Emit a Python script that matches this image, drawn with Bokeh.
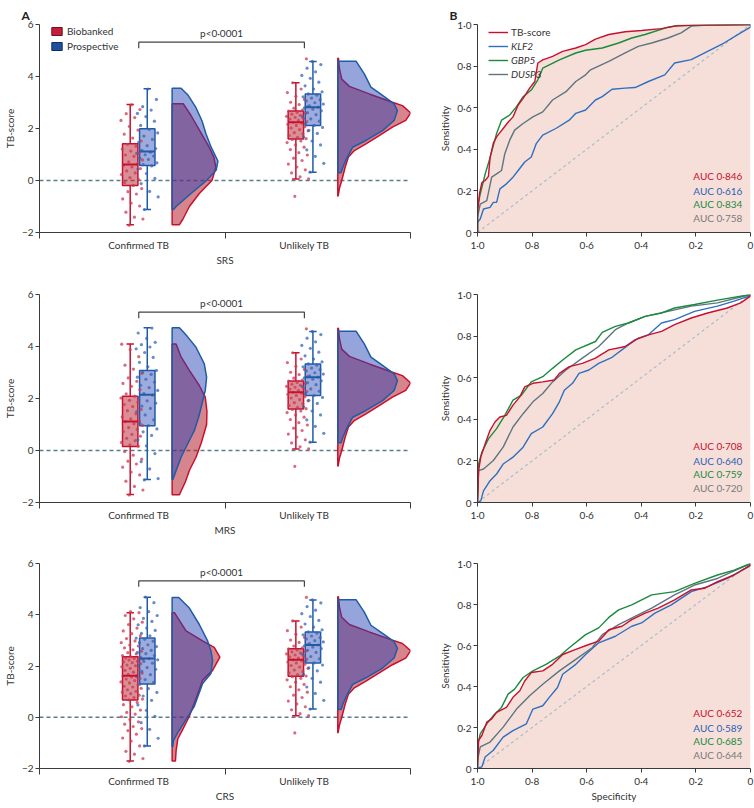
import numpy as np
from bokeh.plotting import figure
from bokeh.models import (Range1d, FixedTicker, CustomJSTickFormatter, Span, Label,
                          Legend, LegendItem)
from bokeh.layouts import row, column
from bokeh.embed import file_html
from bokeh.resources import INLINE

# ---------------- data ----------------
CATEGORIES = ["Confirmed TB", "Unlikely TB"]
GROUPS = ["Biobanked", "Prospective"]
STANDARDS = ["SRS", "MRS", "CRS"]
PANEL_LETTERS = ["A", "B"]
P_TEXT = "p<0·0001"

# box statistics: [min whisker, q1, median, q3, max whisker]
BOX_SRS_CONF_BIO = [-1.70, -0.19, 0.62, 1.41, 2.92]
BOX_SRS_CONF_PRO = [-1.12, 0.58, 1.12, 1.99, 3.53]
BOX_MRS_CONF_BIO = [-1.69, 0.15, 1.12, 2.09, 4.10]
BOX_MRS_CONF_PRO = [-1.12, 0.95, 2.14, 3.08, 4.72]
BOX_CRS_CONF_BIO = [-1.71, 0.67, 1.62, 2.36, 4.08]
BOX_CRS_CONF_PRO = [-1.12, 1.30, 2.29, 3.09, 4.68]
BOX_UNL_BIO = [0.06, 1.60, 2.24, 2.67, 3.76]
BOX_UNL_PRO = [0.32, 2.12, 2.82, 3.33, 4.58]

# individual TB-scores
PTS_SRS_CONF_BIO = [-1.72, -1.48, -1.41, -1.22, -0.98, -0.87, -0.71, -0.52, -0.43, -0.31,
                    -0.19, -0.08, 0.04, 0.11, 0.23, 0.29, 0.37, 0.46, 0.52, 0.58,
                    0.63, 0.72, 0.79, 0.93, 0.98, 1.06, 1.13, 1.21, 1.32, 1.39,
                    1.52, 1.63, 1.78, 1.94, 2.08, 2.31, 2.42, 2.57, 2.73, 2.91]
PTS_SRS_CONF_PRO = [-1.12, -0.63, -0.42, -0.12, 0.08, 0.27, 0.44, 0.56,
                    0.61, 0.68, 0.81, 0.86, 0.94, 0.99, 1.04, 1.09,
                    1.16, 1.23, 1.34, 1.47, 1.58, 1.71, 1.83, 1.97,
                    2.12, 2.28, 2.46, 2.58, 2.71, 2.84, 3.12, 3.52]
PTS_MRS_CONF_BIO = [-1.71, -1.52, -1.38, -1.18, -0.94, -0.83, -0.64, -0.52, -0.41, -0.33, -0.18, -0.04, 0.16,
                    0.22, 0.31, 0.38, 0.47, 0.55, 0.62, 0.73, 0.81, 0.88, 0.97, 1.03, 1.11,
                    1.14, 1.22, 1.29, 1.41, 1.53, 1.58, 1.69, 1.77, 1.86, 1.93, 2.02, 2.09,
                    2.18, 2.34, 2.47, 2.58, 2.66, 2.79, 2.97, 3.13, 3.28, 3.61, 3.88, 4.09]
PTS_MRS_CONF_PRO = [-1.13, -1.08, -0.71, -0.43, -0.12, 0.18, 0.41, 0.58, 0.72, 0.83, 0.96,
                    1.04, 1.18, 1.37, 1.49, 1.62, 1.71, 1.82, 1.91, 2.03, 2.13,
                    2.19, 2.31, 2.42, 2.51, 2.63, 2.74, 2.82, 2.93, 3.01, 3.08,
                    3.22, 3.39, 3.58, 3.77, 3.91, 3.98, 4.07, 4.16, 4.31, 4.52, 4.71]
PTS_CRS_CONF_BIO = [-1.72, -1.61, -1.44, -1.33, -1.12, -0.93, -0.81, -0.66, -0.52, -0.44, -0.36,
                    -0.27, -0.18, -0.09, 0.02, 0.12, 0.19, 0.28, 0.41, 0.49, 0.58,
                    0.68, 0.71, 0.77, 0.83, 0.86, 0.92, 0.98, 1.01, 1.07, 1.13, 1.18, 1.21,
                    1.27, 1.34, 1.38, 1.43, 1.49, 1.52, 1.57, 1.61,
                    1.63, 1.67, 1.72, 1.76, 1.83, 1.87, 1.91, 1.97, 2.01, 2.04, 2.09, 2.13,
                    2.16, 2.19, 2.23, 2.26, 2.29, 2.31, 2.34, 2.36,
                    2.41, 2.47, 2.52, 2.58, 2.63, 2.71, 2.78, 2.82, 2.91, 2.98, 3.07, 3.18,
                    3.26, 3.37, 3.48, 3.62, 3.71, 3.84, 3.97, 4.08, 4.12]
PTS_CRS_CONF_PRO = [-1.12, -0.82, -0.47, -0.21, 0.04, 0.27, 0.48, 0.66, 0.83, 0.97, 1.12, 1.29,
                    1.36, 1.47, 1.58, 1.66, 1.79, 1.87, 1.94, 2.03, 2.11, 2.18, 2.24, 2.29,
                    2.33, 2.41, 2.48, 2.53, 2.61, 2.68, 2.76, 2.83, 2.91, 2.97, 3.04, 3.09,
                    3.18, 3.27, 3.39, 3.48, 3.61, 3.74, 3.86, 3.97, 4.12, 4.28, 4.47, 4.69]
PTS_UNL_BIO = [-0.61, 0.06, 0.14, 0.29, 0.41, 0.52, 0.63, 0.77, 0.86, 0.98, 1.07, 1.19, 1.28,
               1.37, 1.46, 1.52, 1.58,
               1.61, 1.66, 1.73, 1.79, 1.84, 1.91, 1.96, 2.02, 2.07, 2.12, 2.16, 2.21, 2.24,
               2.27, 2.31, 2.36, 2.39, 2.43, 2.47, 2.51, 2.55, 2.58, 2.62, 2.67,
               2.71, 2.78, 2.84, 2.92, 3.01, 3.12, 3.24, 3.38, 3.52, 3.76, 4.68]
PTS_UNL_PRO = [0.32, 0.66, 0.93, 1.18, 1.37, 1.52, 1.68, 1.81, 1.93, 2.04, 2.12,
               2.19, 2.28, 2.37, 2.46, 2.53, 2.61, 2.68, 2.74, 2.79, 2.82,
               2.87, 2.94, 2.99, 3.06, 3.11, 3.17, 3.22, 3.28, 3.33,
               3.41, 3.52, 3.64, 3.78, 3.93, 4.04, 4.18, 4.32, 4.46, 4.58]

# half-violin density profiles (TB-score level, relative density)
VY_SRS_CONF_BIO = [-1.70, -1.50, -1.00, -0.50, 0.00, 0.50, 0.90, 1.30, 1.90, 2.50, 2.95]
VD_SRS_CONF_BIO = [0.22, 0.32, 0.52, 0.82, 1.20, 1.32, 1.26, 1.11, 0.84, 0.57, 0.34]
VY_SRS_CONF_PRO = [-1.12, -1.00, -0.50, 0.00, 0.40, 0.75, 1.30, 1.80, 2.30, 2.80, 3.30, 3.55]
VD_SRS_CONF_PRO = [0.04, 0.12, 0.57, 1.04, 1.33, 1.38, 1.17, 1.02, 0.90, 0.72, 0.47, 0.27]
VY_MRS_CONF_BIO = [-1.70, -1.20, -0.77, -0.26, 0.30, 1.00, 1.50, 2.05, 2.50, 3.08, 3.60, 4.10]
VD_MRS_CONF_BIO = [0.22, 0.40, 0.52, 0.72, 0.88, 1.04, 1.05, 1.00, 0.82, 0.52, 0.27, 0.12]
VY_MRS_CONF_PRO = [-1.12, -0.77, -0.26, 0.26, 0.77, 1.28, 1.79, 2.31, 2.82, 3.33, 3.97, 4.40, 4.72]
VD_MRS_CONF_PRO = [0.02, 0.12, 0.27, 0.47, 0.67, 0.80, 0.90, 1.00, 1.04, 0.97, 0.72, 0.45, 0.22]
VY_CRS_CONF_BIO = [-1.71, -1.30, -0.85, -0.47, 0.04, 0.56, 1.07, 1.45, 1.83, 2.35, 2.73, 2.98, 3.37, 4.08]
VD_CRS_CONF_BIO = [0.10, 0.12, 0.17, 0.32, 0.52, 0.67, 0.82, 0.92, 1.22, 1.44, 1.27, 0.92, 0.42, 0.07]
VY_CRS_CONF_PRO = [-1.15, -0.91, -0.60, -0.08, 0.43, 1.32, 1.71, 2.22, 2.60, 2.98, 3.62, 4.26, 4.67]
VD_CRS_CONF_PRO = [0.02, 0.04, 0.17, 0.42, 0.67, 0.92, 1.17, 1.22, 1.17, 1.07, 0.82, 0.52, 0.20]
VY_UNL_BIO = [-0.60, -0.30, 0.00, 0.50, 0.90, 1.15, 1.41, 1.73, 2.05, 2.31, 2.60, 2.88, 3.01, 3.33,
              3.62, 3.90, 4.30, 4.70]
VD_UNL_BIO = [0.01, 0.05, 0.12, 0.22, 0.32, 0.50, 0.85, 1.25, 1.65, 2.05, 2.20, 1.95, 1.65, 0.95,
              0.35, 0.12, 0.05, 0.02]
VY_UNL_PRO = [0.30, 0.50, 0.80, 1.28, 1.54, 1.92, 2.31, 2.69, 2.95, 3.27, 3.59, 4.10, 4.59]
VD_UNL_PRO = [0.10, 0.15, 0.25, 0.45, 0.85, 1.35, 1.70, 1.80, 1.70, 1.35, 1.00, 0.80, 0.55]

# ROC curves (specificity, sensitivity)
ROC_LABELS = ["TB-score", "KLF2", "GBP5", "DUSP3"]

SRS_SPEC_TB = [1.0, 1.0, 0.993, 0.984, 0.972, 0.96, 0.954, 0.942, 0.93, 0.918, 0.906, 0.888, 0.87, 0.851,
               0.833, 0.809, 0.79, 0.779, 0.761, 0.725, 0.688, 0.64, 0.604, 0.568, 0.519, 0.459, 0.399,
               0.326, 0.278, 0.205, 0.0]
SRS_SENS_TB = [0.0, 0.09, 0.185, 0.24, 0.25, 0.27, 0.36, 0.43, 0.46, 0.48, 0.50, 0.53, 0.556, 0.613,
               0.645, 0.694, 0.726, 0.815, 0.83, 0.847, 0.871, 0.887, 0.903, 0.93, 0.952, 0.965, 0.971,
               0.98, 0.992, 0.997, 1.0]
SRS_SPEC_KLF2 = [1.0, 1.0, 0.99, 0.978, 0.954, 0.942, 0.93, 0.918, 0.894, 0.87, 0.851, 0.827, 0.803,
                 0.785, 0.761, 0.713, 0.664, 0.64, 0.604, 0.568, 0.543, 0.507, 0.459, 0.423, 0.374,
                 0.314, 0.278, 0.217, 0.157, 0.097, 0.036, 0.0, 0.0]
SRS_SENS_KLF2 = [0.0, 0.048, 0.065, 0.113, 0.121, 0.145, 0.145, 0.21, 0.234, 0.266, 0.298, 0.339, 0.363,
                 0.427, 0.468, 0.50, 0.54, 0.573, 0.589, 0.637, 0.653, 0.689, 0.694, 0.697, 0.726,
                 0.758, 0.815, 0.831, 0.871, 0.911, 0.96, 0.987, 1.0]
SRS_SPEC_GBP5 = [1.0, 1.0, 0.99, 0.972, 0.954, 0.93, 0.912, 0.882, 0.857, 0.833, 0.803, 0.779, 0.761,
                 0.70, 0.64, 0.604, 0.543, 0.483, 0.435, 0.386, 0.302, 0.266, 0.0]
SRS_SENS_GBP5 = [0.0, 0.12, 0.185, 0.28, 0.36, 0.476, 0.54, 0.565, 0.605, 0.653, 0.685, 0.734, 0.79,
                 0.83, 0.863, 0.876, 0.887, 0.911, 0.935, 0.952, 0.987, 0.995, 1.0]
SRS_SPEC_DUSP3 = [1.0, 1.0, 0.99, 0.966, 0.948, 0.93, 0.912, 0.90, 0.882, 0.864, 0.833, 0.797, 0.761,
                  0.725, 0.676, 0.64, 0.604, 0.586, 0.519, 0.459, 0.411, 0.362, 0.302, 0.254, 0.217,
                  0.157, 0.0]
SRS_SENS_DUSP3 = [0.0, 0.073, 0.137, 0.153, 0.266, 0.282, 0.298, 0.379, 0.444, 0.492, 0.524, 0.556,
                  0.58, 0.637, 0.677, 0.726, 0.758, 0.782, 0.823, 0.863, 0.895, 0.911, 0.935, 0.96,
                  0.992, 0.997, 1.0]

MRS_SPEC_TB = [1.0, 1.0, 0.996, 0.988, 0.972, 0.954, 0.936, 0.918, 0.894, 0.87, 0.845, 0.827, 0.797,
               0.761, 0.719, 0.70, 0.664, 0.616, 0.568, 0.519, 0.459, 0.423, 0.374, 0.326, 0.278,
               0.217, 0.157, 0.085, 0.036, 0.0, 0.0]
MRS_SENS_TB = [0.0, 0.008, 0.153, 0.218, 0.282, 0.347, 0.387, 0.411, 0.419, 0.468, 0.508, 0.556, 0.573,
               0.58, 0.589, 0.621, 0.653, 0.669, 0.694, 0.734, 0.75, 0.782, 0.806, 0.823, 0.855,
               0.887, 0.911, 0.935, 0.96, 0.992, 1.0]
MRS_SPEC_KLF2 = [1.0, 0.988, 0.978, 0.954, 0.93, 0.906, 0.87, 0.833, 0.803, 0.761, 0.725, 0.70, 0.682,
                 0.652, 0.628, 0.592, 0.556, 0.507, 0.447, 0.411, 0.374, 0.326, 0.278, 0.205, 0.121,
                 0.06, 0.0]
MRS_SENS_KLF2 = [0.0, 0.008, 0.056, 0.105, 0.137, 0.185, 0.218, 0.266, 0.331, 0.363, 0.427, 0.484, 0.54,
                 0.573, 0.621, 0.637, 0.669, 0.698, 0.758, 0.79, 0.806, 0.863, 0.879, 0.919, 0.944,
                 0.968, 0.995]
MRS_SPEC_GBP5 = [1.0, 1.0, 0.996, 0.984, 0.96, 0.93, 0.90, 0.87, 0.839, 0.803, 0.761, 0.725, 0.688,
                 0.64, 0.568, 0.543, 0.495, 0.447, 0.386, 0.326, 0.278, 0.205, 0.121, 0.0]
MRS_SENS_GBP5 = [0.0, 0.008, 0.185, 0.242, 0.306, 0.355, 0.419, 0.492, 0.516, 0.58, 0.605, 0.645, 0.685,
                 0.734, 0.774, 0.818, 0.847, 0.863, 0.895, 0.911, 0.935, 0.952, 0.973, 1.0]
MRS_SPEC_DUSP3 = [1.0, 1.0, 0.996, 0.978, 0.942, 0.906, 0.87, 0.833, 0.797, 0.761, 0.725, 0.676, 0.616,
                  0.556, 0.495, 0.447, 0.386, 0.302, 0.217, 0.121, 0.0]
MRS_SENS_DUSP3 = [0.0, 0.008, 0.153, 0.161, 0.202, 0.266, 0.363, 0.427, 0.484, 0.524, 0.58, 0.637, 0.694,
                  0.75, 0.831, 0.863, 0.895, 0.919, 0.944, 0.96, 1.0]

CRS_SPEC_TB = [1.0, 1.0, 0.996, 0.984, 0.966, 0.948, 0.93, 0.894, 0.87, 0.845, 0.827, 0.803, 0.761,
               0.725, 0.688, 0.64, 0.592, 0.556, 0.519, 0.471, 0.435, 0.386, 0.338, 0.278, 0.217,
               0.169, 0.121, 0.06, 0.0, 0.0]
CRS_SENS_TB = [0.0, 0.008, 0.137, 0.161, 0.226, 0.242, 0.274, 0.298, 0.347, 0.379, 0.427, 0.468, 0.476,
               0.508, 0.556, 0.581, 0.605, 0.621, 0.677, 0.694, 0.726, 0.758, 0.782, 0.823, 0.871,
               0.879, 0.911, 0.944, 0.992, 1.0]
CRS_SPEC_KLF2 = [1.0, 0.984, 0.972, 0.942, 0.906, 0.87, 0.821, 0.797, 0.761, 0.737, 0.707, 0.688, 0.64,
                 0.604, 0.556, 0.495, 0.435, 0.399, 0.35, 0.29, 0.217, 0.157, 0.085, 0.0]
CRS_SENS_KLF2 = [0.0, 0.008, 0.056, 0.089, 0.153, 0.185, 0.218, 0.29, 0.306, 0.347, 0.395, 0.46, 0.508,
                 0.556, 0.613, 0.645, 0.694, 0.71, 0.758, 0.798, 0.863, 0.887, 0.927, 0.99]
CRS_SPEC_GBP5 = [1.0, 0.998, 0.99, 0.966, 0.942, 0.912, 0.888, 0.864, 0.833, 0.797, 0.749, 0.70, 0.664,
                 0.604, 0.556, 0.519, 0.483, 0.435, 0.362, 0.278, 0.205, 0.121, 0.06, 0.0]
CRS_SENS_GBP5 = [0.0, 0.121, 0.169, 0.218, 0.258, 0.298, 0.363, 0.387, 0.444, 0.476, 0.508, 0.548, 0.589,
                 0.653, 0.686, 0.737, 0.774, 0.798, 0.847, 0.863, 0.903, 0.944, 0.968, 1.0]
CRS_SPEC_DUSP3 = [1.0, 1.0, 0.99, 0.954, 0.906, 0.857, 0.809, 0.761, 0.70, 0.64, 0.58, 0.543, 0.483,
                  0.423, 0.362, 0.278, 0.205, 0.121, 0.0]
CRS_SENS_DUSP3 = [0.0, 0.04, 0.105, 0.129, 0.202, 0.29, 0.355, 0.411, 0.476, 0.532, 0.589, 0.653, 0.702,
                  0.742, 0.782, 0.847, 0.895, 0.927, 1.0]

AUC_SRS = ["0·846", "0·616", "0·834", "0·758"]
AUC_MRS = ["0·708", "0·640", "0·759", "0·720"]
AUC_CRS = ["0·652", "0·589", "0·685", "0·644"]

# ---------------- styling ----------------
FONT = "Lato"
TXT = "#333333"
AX = "#3a3a3a"
RED_LINE = "#c8102e"
RED_FILL = "#b5202e"
RED_DOT = "#c93a52"
BLUE_LINE = "#1f5ba6"
BLUE_FILL = "#2341b5"
BLUE_BOX = "#3e57bb"
BLUE_DOT = "#3564b8"
ROC_COLORS = ["#c8102e", "#2f6fc0", "#1b8a3c", "#5d7580"]
AUC_COLORS = ["#c8102e", "#2c5fb5", "#1e8a3e", "#7a7a7a"]
ROC_FILL = "#f6dfd9"

GROUP_X = [0.535, 1.428]
BOX_OFF = 0.046
BOX_W = 0.083
CAP_W = 0.04
VIOLIN_OFF = 0.18
DENS_SCALE = 0.1787
JITTER = 0.06

LEFT_W = 436
RIGHT_W = 318
FIG_HS = [270, 270, 266]
TOPS = [24, 24, 23]
BOT = 38


def style_axis(ax):
    ax.axis_line_color = AX
    ax.major_tick_line_color = AX
    ax.minor_tick_line_color = AX
    ax.major_label_text_font = FONT
    ax.major_label_text_font_size = "10px"
    ax.major_label_text_color = TXT
    ax.axis_label_text_font = FONT
    ax.axis_label_text_font_size = "10px"
    ax.axis_label_text_font_style = "normal"
    ax.axis_label_text_color = TXT
    ax.major_tick_in = 0
    ax.major_tick_out = 4
    ax.minor_tick_in = 0
    ax.minor_tick_out = 0
    ax.major_label_standoff = 2
    ax.axis_label_standoff = 3


def style_title(p, offset):
    p.title.align = "left"
    p.title.offset = offset
    p.title.standoff = 4
    p.title.text_font = FONT
    p.title.text_font_size = "12px"
    p.title.text_font_style = "bold"
    p.title.text_color = "#222222"


def jitter_x(n, center):
    k = np.arange(n)
    frac = (k * 0.6180339887 + 0.37) % 1.0
    return center + (frac - 0.5) * 2 * JITTER


def violin(p, x0, ys, ds, fill, line, alpha):
    xs = [x0] + [x0 + d * DENS_SCALE for d in ds] + [x0]
    yy = [ys[0]] + list(ys) + [ys[-1]]
    p.patch(xs, yy, fill_color=fill, fill_alpha=alpha, line_color=line, line_width=1.5)


def box(p, cx, stats, fill, line):
    mn, q1, med, q3, mx = stats
    p.segment(x0=[cx, cx], y0=[mn, q3], x1=[cx, cx], y1=[q1, mx], line_color=line, line_width=1.5)
    p.segment(x0=[cx - CAP_W / 2] * 2, y0=[mn, mx], x1=[cx + CAP_W / 2] * 2, y1=[mn, mx],
              line_color=line, line_width=1.5)
    p.quad(left=[cx - BOX_W / 2], right=[cx + BOX_W / 2], bottom=[q1], top=[q3],
           fill_color=fill, fill_alpha=0.5, line_color=line, line_width=1.5)


def left_panel(i, conf_bio, conf_pro, unl_bio, unl_pro):
    fh = FIG_HS[i] - TOPS[i] - BOT
    p = figure(width=LEFT_W, height=FIG_HS[i], x_range=Range1d(0, 2), y_range=Range1d(-2, 6),
               output_backend="svg", toolbar_location=None,
               title=PANEL_LETTERS[0] if i == 0 else None,
               min_border_left=36, min_border_right=26,
               min_border_top=TOPS[i], min_border_bottom=BOT)
    p.grid.visible = False
    p.outline_line_color = None
    if i == 0:
        style_title(p, -18)

    zero = Span(location=0, dimension="width", line_color="#5a7d8c", line_dash="4 3",
                line_width=1.5, level="underlay")
    p.add_layout(zero)

    for ci, (pb, bb, vyb, vdb), (pp, bp, vyp, vdp) in [(0, conf_bio, conf_pro), (1, unl_bio, unl_pro)]:
        gx = GROUP_X[ci]
        xr = gx - BOX_OFF
        xb = gx + BOX_OFF
        box(p, xr, bb, RED_FILL, RED_LINE)
        box(p, xb, bp, BLUE_BOX, BLUE_LINE)
        p.scatter(jitter_x(len(pb), xr + 0.01), pb, size=3.2, marker="circle",
                  fill_color=RED_DOT, fill_alpha=0.75, line_color=None)
        p.scatter(jitter_x(len(pp), xb), pp, size=3.2, marker="circle",
                  fill_color=BLUE_DOT, fill_alpha=0.75, line_color=None)
        p.segment(x0=[xr - BOX_W / 2], y0=[bb[2]], x1=[xr + BOX_W / 2], y1=[bb[2]],
                  line_color=RED_LINE, line_width=2)
        p.segment(x0=[xb - BOX_W / 2], y0=[bp[2]], x1=[xb + BOX_W / 2], y1=[bp[2]],
                  line_color=BLUE_LINE, line_width=2)
        vx = gx + VIOLIN_OFF
        violin(p, vx, vyb, vdb, RED_FILL, RED_LINE, 0.55)
        violin(p, vx, vyp, vdp, BLUE_FILL, BLUE_LINE, 0.48)

    # significance bracket
    by, bt = 5.32, 5.09
    p.line([GROUP_X[0], GROUP_X[0], GROUP_X[1], GROUP_X[1]], [bt, by, by, bt],
           line_color="#444444", line_width=1.2)
    p.add_layout(Label(x=(GROUP_X[0] + GROUP_X[1]) / 2, y=5.68, text=P_TEXT,
                       text_align="center", text_baseline="middle", text_font=FONT,
                       text_font_size="10px", text_color=TXT))

    # axes
    p.xaxis.ticker = FixedTicker(ticks=GROUP_X, minor_ticks=[0, 1, 2])
    p.xaxis.formatter = CustomJSTickFormatter(args=dict(cats=CATEGORIES, pos=GROUP_X), code="""
        let b = 0, d = 1e9;
        for (let i = 0; i < pos.length; i++) { const e = Math.abs(pos[i] - tick); if (e < d) { d = e; b = i; } }
        return cats[b];""")
    p.yaxis.ticker = FixedTicker(ticks=[-2, 0, 2, 4, 6])
    p.yaxis.formatter = CustomJSTickFormatter(code="return tick < 0 ? '\u2212' + Math.abs(tick) : '' + tick;")
    for ax in p.axis:
        style_axis(ax)
    p.xaxis.major_tick_out = 0
    p.xaxis.minor_tick_out = 6
    p.xaxis.major_label_standoff = 0
    p.xaxis.axis_label_standoff = 0
    p.xaxis.axis_label = STANDARDS[i]
    p.yaxis.axis_label = "TB-score"

    if i == 0:
        nan = [float("nan")]
        rr = p.quad(left=nan, right=nan, top=nan, bottom=nan, fill_color="#c41e3a", line_color="#6e0f20")
        rb = p.quad(left=nan, right=nan, top=nan, bottom=nan, fill_color="#1f4e9e", line_color="#0e2f66")
        leg = Legend(items=[LegendItem(label=GROUPS[0], renderers=[rr]),
                            LegendItem(label=GROUPS[1], renderers=[rb])],
                     location=(11, fh - 29), margin=0, padding=0, spacing=1,
                     glyph_width=13, glyph_height=10, label_height=14, label_standoff=4,
                     label_text_font=FONT, label_text_font_size="10px", label_text_color=TXT,
                     border_line_alpha=0, background_fill_alpha=0)
        p.add_layout(leg)
    return p


def right_panel(i, specs, senses, aucs):
    fh = FIG_HS[i] - TOPS[i] - BOT
    p = figure(width=RIGHT_W, height=FIG_HS[i], x_range=Range1d(1, 0), y_range=Range1d(0, 1),
               output_backend="svg", toolbar_location=None,
               title=PANEL_LETTERS[1] if i == 0 else None,
               min_border_left=40, min_border_right=4,
               min_border_top=TOPS[i], min_border_bottom=BOT)
    p.grid.visible = False
    p.outline_line_color = None
    if i == 0:
        style_title(p, -28)
    p.varea(x=specs[0], y1=[0] * len(specs[0]), y2=senses[0], fill_color=ROC_FILL)
    p.line([1, 0], [0, 1], line_color="#a9bccc", line_dash="3 3", line_width=1.2)
    rends = {}
    for k in [1, 3, 2, 0]:
        rends[k] = p.line(specs[k], senses[k], line_color=ROC_COLORS[k], line_width=1.4)

    ticks = [0, 0.2, 0.4, 0.6, 0.8, 1.0]
    fmt = CustomJSTickFormatter(code="if (Math.abs(tick) < 1e-9) return '0'; return tick.toFixed(1).replace('.', '\u00b7');")
    p.xaxis.ticker = FixedTicker(ticks=ticks)
    p.yaxis.ticker = FixedTicker(ticks=ticks)
    p.xaxis.formatter = fmt
    p.yaxis.formatter = fmt
    for ax in p.axis:
        style_axis(ax)
    p.xaxis.axis_label_standoff = 0
    p.yaxis.axis_label = "Sensitivity"
    if i == 2:
        p.xaxis.axis_label = "Specificity"

    for j, (txt, yv) in enumerate(zip(aucs, [0.27, 0.20, 0.135, 0.068])):
        p.add_layout(Label(x=0.03, y=yv, text="AUC " + txt, text_align="right",
                           text_baseline="middle", text_font=FONT, text_font_size="10px",
                           text_color=AUC_COLORS[j]))

    if i == 0:
        common = dict(margin=0, padding=0, spacing=0, glyph_width=20, glyph_height=14,
                      label_height=14, label_standoff=3, label_text_font=FONT,
                      label_text_font_size="10px", label_text_color=TXT,
                      border_line_alpha=0, background_fill_alpha=0)
        l1 = Legend(items=[LegendItem(label=ROC_LABELS[0], renderers=[rends[0]])],
                    location=(11, fh - 15), **common)
        l2 = Legend(items=[LegendItem(label=ROC_LABELS[k], renderers=[rends[k]]) for k in [1, 2, 3]],
                    location=(11, fh - 57), label_text_font_style="italic", **common)
        p.add_layout(l1)
        p.add_layout(l2)
    return p


a1 = left_panel(0, (PTS_SRS_CONF_BIO, BOX_SRS_CONF_BIO, VY_SRS_CONF_BIO, VD_SRS_CONF_BIO),
                (PTS_SRS_CONF_PRO, BOX_SRS_CONF_PRO, VY_SRS_CONF_PRO, VD_SRS_CONF_PRO),
                (PTS_UNL_BIO, BOX_UNL_BIO, VY_UNL_BIO, VD_UNL_BIO),
                (PTS_UNL_PRO, BOX_UNL_PRO, VY_UNL_PRO, VD_UNL_PRO))
a2 = left_panel(1, (PTS_MRS_CONF_BIO, BOX_MRS_CONF_BIO, VY_MRS_CONF_BIO, VD_MRS_CONF_BIO),
                (PTS_MRS_CONF_PRO, BOX_MRS_CONF_PRO, VY_MRS_CONF_PRO, VD_MRS_CONF_PRO),
                (PTS_UNL_BIO, BOX_UNL_BIO, VY_UNL_BIO, VD_UNL_BIO),
                (PTS_UNL_PRO, BOX_UNL_PRO, VY_UNL_PRO, VD_UNL_PRO))
a3 = left_panel(2, (PTS_CRS_CONF_BIO, BOX_CRS_CONF_BIO, VY_CRS_CONF_BIO, VD_CRS_CONF_BIO),
                (PTS_CRS_CONF_PRO, BOX_CRS_CONF_PRO, VY_CRS_CONF_PRO, VD_CRS_CONF_PRO),
                (PTS_UNL_BIO, BOX_UNL_BIO, VY_UNL_BIO, VD_UNL_BIO),
                (PTS_UNL_PRO, BOX_UNL_PRO, VY_UNL_PRO, VD_UNL_PRO))

b1 = right_panel(0, [SRS_SPEC_TB, SRS_SPEC_KLF2, SRS_SPEC_GBP5, SRS_SPEC_DUSP3],
                 [SRS_SENS_TB, SRS_SENS_KLF2, SRS_SENS_GBP5, SRS_SENS_DUSP3], AUC_SRS)
b2 = right_panel(1, [MRS_SPEC_TB, MRS_SPEC_KLF2, MRS_SPEC_GBP5, MRS_SPEC_DUSP3],
                 [MRS_SENS_TB, MRS_SENS_KLF2, MRS_SENS_GBP5, MRS_SENS_DUSP3], AUC_MRS)
b3 = right_panel(2, [CRS_SPEC_TB, CRS_SPEC_KLF2, CRS_SPEC_GBP5, CRS_SPEC_DUSP3],
                 [CRS_SENS_TB, CRS_SENS_KLF2, CRS_SENS_GBP5, CRS_SENS_DUSP3], AUC_CRS)

layout = row(column(a1, a2, a3), column(b1, b2, b3))
open("out.html", "w", encoding="utf-8").write(file_html(layout, INLINE))
